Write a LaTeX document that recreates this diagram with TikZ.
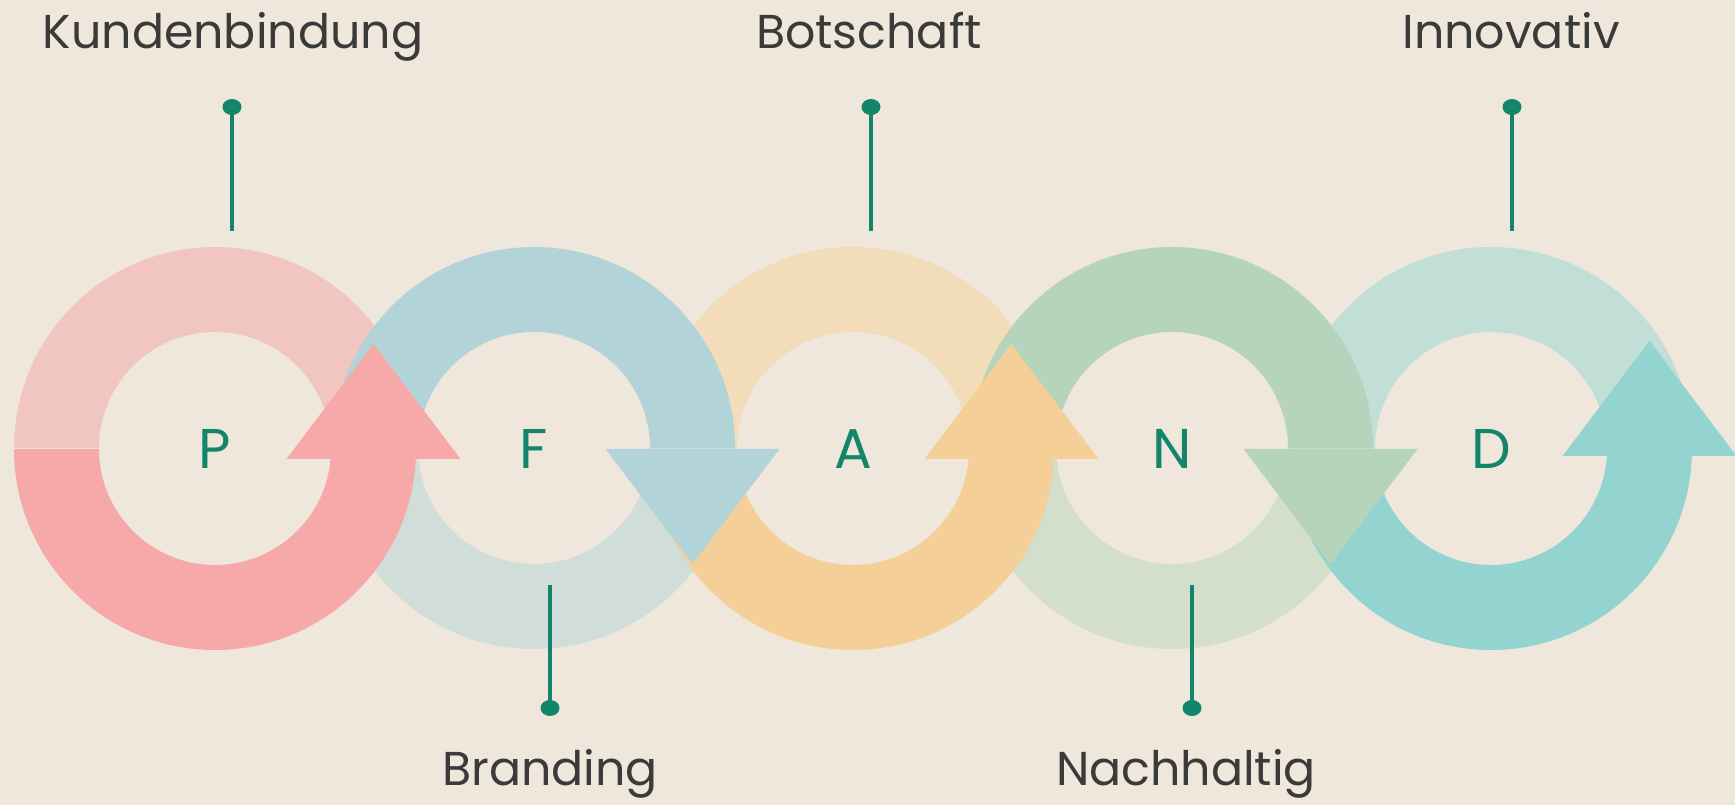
\documentclass[tikz,border=0pt]{standalone}
\usepackage{fontspec}
\setmainfont{Poppins}
\usetikzlibrary{scopes,shapes.geometric}

\definecolor{bg}{HTML}{EFE7DB}
\definecolor{deepgreen}{HTML}{12856B}
\definecolor{textgray}{HTML}{3A3A3A}
\definecolor{Plight}{HTML}{F2C6C0}
\definecolor{Pdark}{HTML}{F7A8A8}
\definecolor{Flight}{HTML}{D0DDD8}
\definecolor{Fdark}{HTML}{B2D4D8}
\definecolor{Alight}{HTML}{F2DCBA}
\definecolor{Adark}{HTML}{F5CF98}
\definecolor{Nlight}{HTML}{D3DECB}
\definecolor{Ndark}{HTML}{B5D4BB}
\definecolor{Dlight}{HTML}{C1DED7}
\definecolor{Ddark}{HTML}{93D4D1}

\begin{document}
\begin{tikzpicture}[
    x=1pt,y=1pt,
    label/.style={text=textgray,font=\fontsize{47.5}{57}\selectfont,anchor=base,inner sep=0pt},
    letter/.style={text=deepgreen,font=\fontsize{56}{66}\selectfont,anchor=base,inner sep=0pt},
    pin/.style={draw=deepgreen,line width=4.5pt},
    dot/.style={ellipse,fill=deepgreen,minimum width=19pt,minimum height=16pt,inner sep=0pt},
]
\fill[bg] (0,0) rectangle (1735,805);
\useasboundingbox (0,0) rectangle (1735,805);

% ring centres
\coordinate (cP) at (215,357);
\coordinate (cF) at (534,357);
\coordinate (cA) at (853,357);
\coordinate (cN) at (1172,357);
\coordinate (cD) at (1491,357);

%%%
% pale halves
\fill[Plight] (cP) ++(-201,0) arc[start angle=180,end angle=0,radius=201] -- ++(-85,0) arc[start angle=0,end angle=180,radius=116] -- cycle;
\fill[Flight] (cF) ++(-201,0) arc[start angle=180,end angle=360,radius=201] -- ++(-85,0) arc[start angle=360,end angle=180,radius=116] -- cycle;
\fill[Alight] (cA) ++(-201,0) arc[start angle=180,end angle=0,radius=201] -- ++(-85,0) arc[start angle=0,end angle=180,radius=116] -- cycle;
\fill[Nlight] (cN) ++(-201,0) arc[start angle=180,end angle=360,radius=201] -- ++(-85,0) arc[start angle=360,end angle=180,radius=116] -- cycle;
\fill[Dlight] (cD) ++(-201,0) arc[start angle=180,end angle=0,radius=201] -- ++(-85,0) arc[start angle=0,end angle=180,radius=116] -- cycle;

%%%
% strong halves
\fill[Pdark] (cP) ++(-201,-1) arc[start angle=180,end angle=360,radius=201] -- ++(-85,0) arc[start angle=360,end angle=180,radius=116] -- cycle;
\fill[Fdark] (cF) ++(-201,0) arc[start angle=180,end angle=0,radius=201] -- ++(-85,0) arc[start angle=0,end angle=180,radius=116] -- cycle;
\fill[Adark] (cA) ++(-201,-1) arc[start angle=180,end angle=360,radius=201] -- ++(-85,0) arc[start angle=360,end angle=180,radius=116] -- cycle;
\fill[Ndark] (cN) ++(-201,0) arc[start angle=180,end angle=0,radius=201] -- ++(-85,0) arc[start angle=0,end angle=180,radius=116] -- cycle;
\fill[Ddark] (cD) ++(-201,-1) arc[start angle=180,end angle=360,radius=201] -- ++(-85,0) arc[start angle=360,end angle=180,radius=116] -- cycle;

%%%
% arrow heads
\fill[Pdark] (cP) ++(71.5,-11) -- ++(174,0) -- ++(-87,115) -- cycle;
\fill[Fdark] (cF) ++(71.5,-1) -- ++(174,0) -- ++(-87,-115) -- cycle;
\fill[Adark] (cA) ++(71.5,-11) -- ++(174,0) -- ++(-87,115) -- cycle;
\fill[Ndark] (cN) ++(71.5,-1) -- ++(174,0) -- ++(-87,-115) -- cycle;
\fill[Ddark] (cD) ++(71.5,-8) -- ++(174,0) -- ++(-87,115) -- cycle;

%%%
% letters
\node[letter] (P) at (215,336) {P};
\node[letter] (F) at (534,336) {F};
\node[letter] (A) at (853,336) {A};
\node[letter] (N) at (1172,336) {N};
\node[letter] (D) at (1491,336) {D};

%%%
% pins and labels
{[pin]
    \coordinate (endK) at (232,574);
    \coordinate (endB) at (871,574);
    \coordinate (endI) at (1512,574);
    \coordinate (endBr) at (550,220);
    \coordinate (endNa) at (1192,220);
    \node[dot] (dotK) at (232,698) {};
    \node[dot] (dotB) at (871,698) {};
    \node[dot] (dotI) at (1512,698) {};
    \node[dot] (dotBr) at (550,97) {};
    \node[dot] (dotNa) at (1192,97) {};
    \draw (endK) -- (dotK.center);
    \draw (endB) -- (dotB.center);
    \draw (endI) -- (dotI.center);
    \draw (endBr) -- (dotBr.center);
    \draw (endNa) -- (dotNa.center);
}
\node[label] (kund) at (233,756) {Kundenbindung};
\node[label] (bot) at (869,756) {Botschaft};
\node[label] (inno) at (1511,756) {Innovativ};
\node[label] (brand) at (550,19) {Branding};
\node[label] (nach) at (1186,19) {Nachhaltig};
\end{tikzpicture}
\end{document}
